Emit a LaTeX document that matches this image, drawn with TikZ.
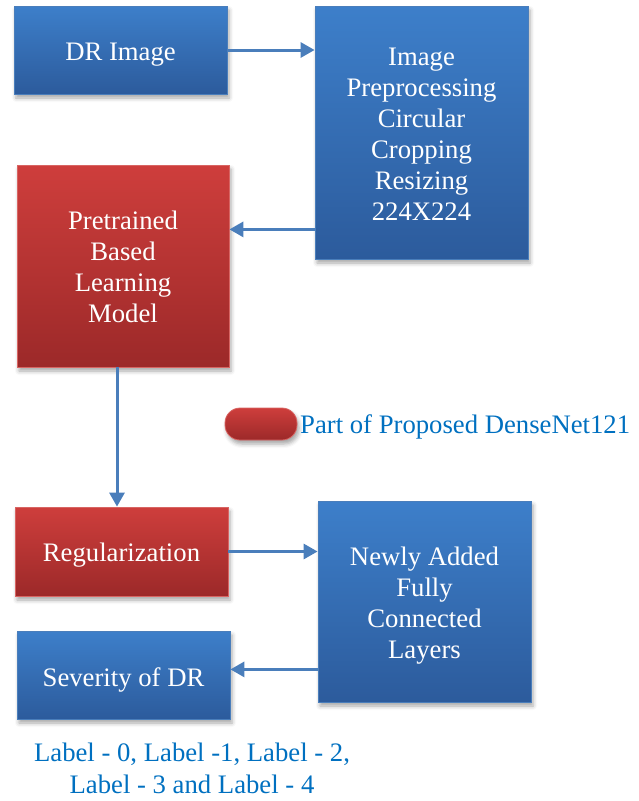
\documentclass[tikz,border=0pt]{standalone}
\usepackage{fontspec}
\setmainfont{Liberation Serif}
\usetikzlibrary{arrows.meta,shadows.blur}
\definecolor{boxbluetop}{RGB}{61,127,202}
\definecolor{boxbluebot}{RGB}{44,91,156}
\definecolor{boxredtop}{RGB}{206,62,60}
\definecolor{boxredbot}{RGB}{156,41,41}
\definecolor{linkblue}{RGB}{74,126,187}
\definecolor{txtblue}{RGB}{0,112,192}
\tikzset{
  bloque/.style={rectangle,draw=linkblue,line width=0.8pt,
    blur shadow={shadow xshift=2pt,shadow yshift=-4pt,shadow blur radius=4pt,shadow opacity=35}},
  azul/.style={bloque,top color=boxbluetop,bottom color=boxbluebot},
  rojo/.style={bloque,draw=boxredtop!80!white,top color=boxredtop,bottom color=boxredbot},
  rotulo/.style={text=white,align=center,font=\fontsize{26.7}{31}\selectfont},
  flecha/.style={draw=linkblue,line width=3pt,-{Triangle[length=14pt,width=15pt]}},
  nota/.style={text=txtblue,font=\fontsize{26.7}{32}\selectfont,align=center}
}
\begin{document}
\begin{tikzpicture}[x=1pt,y=-1pt]
  \useasboundingbox (0,0) rectangle (639,801);
  % bloques del flujo
  \node[azul,minimum width=213,minimum height=88,
    label={[rotulo,yshift=-5pt]center:DR Image}] (dr) at (120.5,50) {};
  \node[azul,minimum width=213,minimum height=253,
    label={[rotulo,yshift=-2pt]center:Image\\Preprocessing\\Circular\\Cropping\\Resizing\\224X224}] (prep) at (421.5,132.5) {};
  \node[rojo,minimum width=212,minimum height=202,
    label={[rotulo,yshift=-1pt]center:Pretrained\\Based\\Learning\\Model}] (pre) at (123,266) {};
  \node[rojo,minimum width=213,minimum height=89,
    label={[rotulo,yshift=-4pt]center:Regularization}] (reg) at (121.5,551.5) {};
  \node[azul,minimum width=213,minimum height=201,
    label={[rotulo,yshift=-4pt]center:Newly Added\\Fully\\Connected\\Layers}] (fc) at (424.5,601.5) {};
  \node[azul,minimum width=213,minimum height=88,
    label={[rotulo,yshift=-5pt]center:Severity of DR}] (sev) at (123.5,675) {};
  % leyenda
  \node[rojo,rounded corners=15pt,minimum width=72,minimum height=32,inner sep=0pt] (ley) at (261,424) {};
  \node[nota,anchor=west,inner sep=0pt] (leytxt) at (300,427) {Part of Proposed DenseNet121};
  \node[nota,inner sep=0pt] (clases) at (192,768) {Label - 0, Label -1, Label - 2,\\Label - 3 and Label - 4};
  % conectores
  \draw[flecha] (dr.east) -- (dr.east -| prep.west);
  \draw[flecha] ([yshift=30pt]prep.south west) -- ([yshift=30pt]prep.south west -| pre.east);
  \draw[flecha] ([xshift=-6pt]pre.south) -- ([xshift=-6pt]pre.south |- reg.north);
  \draw[flecha] (reg.east) -- (reg.east -| fc.west);
  \draw[flecha] ([yshift=33pt]fc.south west) -- ([yshift=33pt]fc.south west -| sev.east);
\end{tikzpicture}
\end{document}
